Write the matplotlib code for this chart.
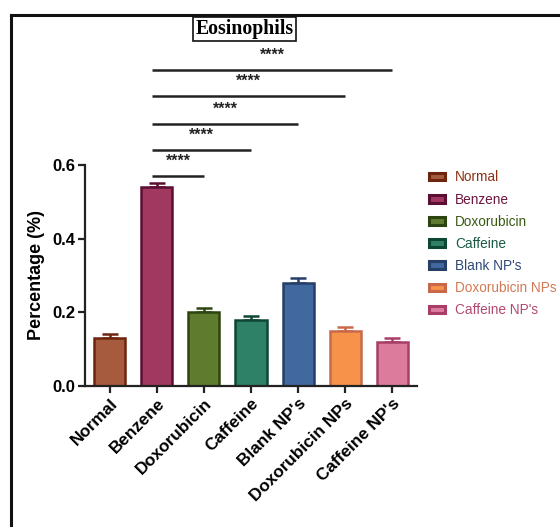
import matplotlib
matplotlib.use("Agg")
import matplotlib.pyplot as plt
from matplotlib.patches import Patch
from matplotlib.lines import Line2D

# Data
groups = ["Normal", "Benzene", "Doxorubicin", "Caffeine", "Blank NP's",
          "Doxorubicin NPs", "Caffeine NP's"]
means = [0.13, 0.54, 0.20, 0.18, 0.28, 0.15, 0.12]
sems = [0.012, 0.012, 0.012, 0.011, 0.012, 0.011, 0.011]
fill_colors = ["#a65a3e", "#a0385f", "#5e7b2e", "#2e8066", "#4268a0",
               "#f7924a", "#dc7b9b"]
edge_colors = ["#6e250d", "#5c0e33", "#2c4510", "#0e4634", "#263f68",
               "#c8694a", "#a83e68"]
legend_text_colors = ["#8a3212", "#6e1840", "#3a5a14", "#1a5a45", "#2f4a78",
                      "#d27a55", "#b24a72"]

# Benzene compared with each later group
comparisons = [(1, 2), (1, 3), (1, 4), (1, 5), (1, 6)]
comparison_labels = ["****"] * 5
bracket_y = [0.571, 0.642, 0.712, 0.788, 0.859]

fig = plt.figure(figsize=(5.6, 5.27), dpi=100)
W, H = 560, 527
ax = fig.add_axes([85 / W, 1 - 386 / H, (417 - 85) / W, (386 - 165) / H])

x = list(range(len(groups)))
ax.bar(x, means, width=0.66, color=fill_colors, edgecolor=edge_colors,
       linewidth=1.8, zorder=2)
for xi, m, s, ec in zip(x, means, sems, edge_colors):
    ax.errorbar(xi, m, yerr=[[0], [s]], fmt="none", ecolor=ec,
                elinewidth=1.8, capsize=6, capthick=1.8, zorder=1)

ax.set_xlim(-0.53, 6.53)
ax.set_ylim(0, 0.6)
ax.set_yticks([0.0, 0.2, 0.4, 0.6])
ax.set_yticklabels(["0.0", "0.2", "0.4", "0.6"], fontsize=12,
                   fontweight="bold", family="Liberation Sans")
ax.set_xticks(x)
ax.set_xticklabels(groups, rotation=45, ha="right", rotation_mode="anchor",
                   fontsize=12.3, fontweight="bold", family="Liberation Sans")
ax.set_ylabel("Percentage (%)", fontsize=13, fontweight="bold",
              family="Liberation Sans", labelpad=5)
for side in ["top", "right"]:
    ax.spines[side].set_visible(False)
for side in ["left", "bottom"]:
    ax.spines[side].set_linewidth(1.6)
    ax.spines[side].set_color("#222222")
ax.tick_params(axis="both", width=1.6, length=5, color="#222222", pad=2)

# Significance brackets
for (a, b), lab, yb in zip(comparisons, comparison_labels, bracket_y):
    x0, x1 = a - 0.1, b
    ax.plot([x0, x1], [yb, yb], color="#222222", lw=1.8, clip_on=False,
            solid_capstyle="butt")
    ax.text((x0 + x1) / 2, yb + 0.026, lab, ha="center", va="baseline",
            fontsize=11.5, fontweight="bold", family="Liberation Sans",
            color="#222222", clip_on=False)

# Legend
handles = [Patch(facecolor=fc, edgecolor=ec, linewidth=2.2)
           for fc, ec in zip(fill_colors, edge_colors)]
leg = fig.legend(handles, groups, loc="upper left",
                 bbox_to_anchor=(424 / W, 1 - 165 / H), frameon=False,
                 prop={"family": "Liberation Sans", "size": 9.8},
                 handlelength=1.15, handleheight=0.5, handletextpad=0.75,
                 labelspacing=0.6, borderaxespad=0)
for t, c in zip(leg.get_texts(), legend_text_colors):
    t.set_color(c)

# Title
fig.text(244.5 / W, 1 - 29 / H, "Eosinophils", ha="center", va="center",
         fontsize=14.2, fontweight="bold", family="Liberation Serif",
         bbox=dict(boxstyle="square,pad=0.12", facecolor="white",
                   edgecolor="#111111", linewidth=1.2))

# Outer frame (left and top edges)
fig.add_artist(Line2D([10.5 / W, 10.5 / W], [0, 1 - 15 / H], color="#111111",
                      lw=2.2, transform=fig.transFigure))
fig.add_artist(Line2D([10.5 / W, 1], [1 - 15 / H, 1 - 15 / H],
                      color="#111111", lw=2.2, transform=fig.transFigure))

fig.savefig("out.png", dpi=100)
